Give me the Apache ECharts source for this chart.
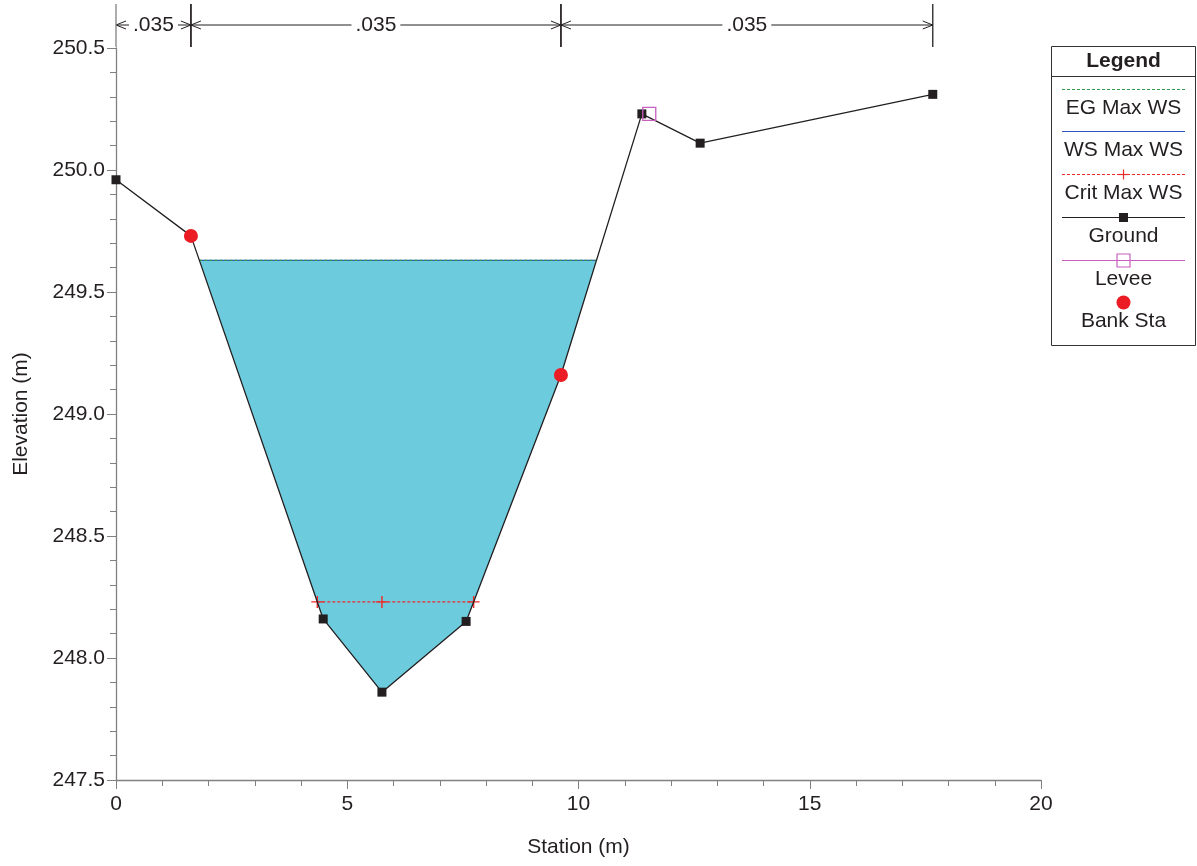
<!DOCTYPE html>
<html><head><meta charset="utf-8">
<script src="https://cdn.jsdelivr.net/npm/echarts@6/dist/echarts.min.js"></script>
<style>html,body{margin:0;padding:0;background:#fff}#c{width:1197px;height:866px}</style>
</head><body><div id="c"></div>
<script>
// ---------------- DATA ----------------
const groundStations   = [0, 1.62, 4.48, 5.75, 7.57, 9.62, 11.37, 12.63, 17.66];
const groundElevations = [249.96, 249.73, 248.16, 247.86, 248.15, 249.16, 250.23, 250.11, 250.31];
const bankStations     = [1.62, 9.62];
const bankElevations   = [249.73, 249.16];
const leveeStations    = [11.53];
const leveeElevations  = [250.23];
const egElevation      = 249.63;   // EG Max WS
const wsElevation      = 249.63;   // WS Max WS
const critElevation    = 248.23;   // Crit Max WS
const nBoundaries      = [0, 1.62, 9.62, 17.66];
const nValues          = ['.035', '.035', '.035'];
const legendNames      = ['EG Max WS', 'WS Max WS', 'Crit Max WS', 'Ground', 'Levee', 'Bank Sta'];
const xMin = 0, xMax = 20, xStep = 5;
const yMin = 247.5, yMax = 250.5, yStep = 0.5;

// ---------------- HELPERS ----------------
const FONT = "'Liberation Sans', Arial, Helvetica, sans-serif";
const C = {water:'#6ccbdc', eg:'#2e9a4e', ws:'#2a56bd', crit:'#ee2a2a', ground:'#231f20', levee:'#c85fbe', bank:'#ec1c24', axis:'#808080', text:'#231f20'};

function crossings(level) {
  const out = [];
  for (let i = 0; i < groundStations.length - 1; i++) {
    const e1 = groundElevations[i], e2 = groundElevations[i + 1];
    if ((e1 - level) * (e2 - level) < 0) {
      const t = (level - e1) / (e2 - e1);
      out.push(groundStations[i] + t * (groundStations[i + 1] - groundStations[i]));
    }
  }
  return out;
}
const wsX = crossings(wsElevation);
const wsLeft = wsX[0], wsRight = wsX[wsX.length - 1];
const waterPoly = [[wsLeft, wsElevation]];
groundStations.forEach((s, i) => { if (s > wsLeft && s < wsRight) waterPoly.push([s, groundElevations[i]]); });
waterPoly.push([wsRight, wsElevation]);

const critX = crossings(critElevation);
let thalweg = 0;
groundElevations.forEach((e, i) => { if (e < groundElevations[thalweg]) thalweg = i; });
const critData = [[critX[0], critElevation], [groundStations[thalweg], critElevation], [critX[critX.length - 1], critElevation]];

const groundData = groundStations.map((s, i) => [s, groundElevations[i]]);
const bankData = bankStations.map((s, i) => [s, bankElevations[i]]);
const leveeData = leveeStations.map((s, i) => [s, leveeElevations[i]]);
const nRegions = nValues.map((v, i) => [nBoundaries[i], nBoundaries[i + 1], yMax]);

const mctx = document.createElement('canvas').getContext('2d');
function textW(t, size) { mctx.font = size + 'px ' + FONT; return mctx.measureText(t).width; }

const PLUS = 'path://M4.4,0H5.6V4.4H10V5.6H5.6V10H4.4V5.6H0V4.4H4.4Z';

// ---------------- LEGEND (graphic) ----------------
const LX0 = 1051.5, LX1 = 1195.5, LY0 = 46.5, LY1 = 345.5, LCX = 1123.5;
const legendLineY = [89.5, 131.5, 174.5, 217.5, 260.5, 302.5];
const legendEls = [
  {type:'rect', shape:{x:LX0, y:LY0, width:LX1 - LX0, height:LY1 - LY0}, style:{fill:'#fff', stroke:'#333', lineWidth:1}},
  {type:'line', shape:{x1:LX0, y1:76.5, x2:LX1, y2:76.5}, style:{stroke:'#333', lineWidth:1}},
  {type:'text', x:LCX, y:61, style:{text:'Legend', font:'bold 21px ' + FONT, fill:C.text, align:'center', verticalAlign:'middle', textAlign:'center', textVerticalAlign:'middle'}}
];
const sampleStyles = [
  {stroke:C.eg, dash:[3,2]}, {stroke:C.ws}, {stroke:C.crit, dash:[3,2], mark:'plus'},
  {stroke:C.ground, mark:'square'}, {stroke:C.levee, mark:'open'}, {mark:'circle'}
];
legendNames.forEach((name, i) => {
  const y = legendLineY[i], st = sampleStyles[i];
  if (st.stroke) legendEls.push({type:'line', shape:{x1:1062, y1:y, x2:1185, y2:y}, style:{stroke:st.stroke, lineWidth:1.2, lineDash:st.dash || null}});
  if (st.mark === 'plus') {
    legendEls.push({type:'line', shape:{x1:LCX - 5, y1:y, x2:LCX + 5, y2:y}, style:{stroke:C.crit, lineWidth:1.2}});
    legendEls.push({type:'line', shape:{x1:LCX, y1:y - 5, x2:LCX, y2:y + 5}, style:{stroke:C.crit, lineWidth:1.2}});
  } else if (st.mark === 'square') {
    legendEls.push({type:'rect', shape:{x:LCX - 4.5, y:y - 4.5, width:9, height:9}, style:{fill:C.ground}});
  } else if (st.mark === 'open') {
    legendEls.push({type:'rect', shape:{x:LCX - 6.5, y:y - 6.5, width:13, height:13}, style:{fill:'rgba(0,0,0,0)', stroke:C.levee, lineWidth:1.2}});
  } else if (st.mark === 'circle') {
    legendEls.push({type:'circle', shape:{cx:LCX, cy:y, r:7}, style:{fill:C.bank}});
  }
  legendEls.push({type:'text', x:LCX, y:y + 19, style:{text:name, font:'21px ' + FONT, fill:C.text, align:'center', verticalAlign:'middle', textAlign:'center', textVerticalAlign:'middle'}});
});

// ---------------- CHART ----------------
const axisCommon = {
  type:'value',
  axisLine:{show:true, onZero:false, lineStyle:{color:C.axis, width:1.3}},
  axisTick:{show:true, inside:false, length:9, lineStyle:{color:C.axis, width:1}},
  minorTick:{show:true, splitNumber:5, length:6, lineStyle:{color:C.axis, width:1}},
  splitLine:{show:false}, minorSplitLine:{show:false},
  nameLocation:'middle', nameMoveOverlap:false,
  nameTextStyle:{fontSize:21, fontFamily:FONT, color:C.text}
};

const chart = echarts.init(document.getElementById('c'), null, {renderer:'canvas'});
chart.setOption({
  animation:false,
  backgroundColor:'#fff',
  grid:{left:116, right:156, top:48, bottom:86, containLabel:false, outerBoundsMode:'none'},
  xAxis: Object.assign({}, axisCommon, {
    min:xMin, max:xMax, interval:xStep,
    name:'Station (m)', nameGap:57,
    axisLabel:{margin:14, fontSize:21, fontFamily:FONT, color:C.text}
  }),
  yAxis: Object.assign({}, axisCommon, {
    min:yMin, max:yMax, interval:yStep,
    name:'Elevation (m)', nameGap:84, nameRotate:90,
    axisLabel:{margin:11, fontSize:21, fontFamily:FONT, color:C.text, formatter:v => v.toFixed(1)}
  }),
  graphic: legendEls,
  series:[
    {type:'custom', name:'water', silent:true, z:1, data:[[wsLeft, wsElevation]],
     renderItem:(p, api) => ({type:'polygon', shape:{points:waterPoly.map(pt => api.coord(pt))}, style:{fill:C.water}})},
    {type:'line', name:'WS Max WS', silent:true, z:3, symbol:'none', data:[[wsLeft, wsElevation], [wsRight, wsElevation]],
     lineStyle:{color:C.ws, width:1.2}},
    {type:'line', name:'EG Max WS', silent:true, z:4, symbol:'none', data:[[wsLeft, egElevation], [wsRight, egElevation]],
     lineStyle:{color:C.eg, width:1.2, type:[3,2]}},
    {type:'line', name:'Crit Max WS', silent:true, z:4, symbol:PLUS, symbolSize:12, data:critData,
     itemStyle:{color:C.crit, opacity:1}, lineStyle:{color:C.crit, width:1.1, type:[3,2]}},
    {type:'line', name:'Ground', silent:true, z:5, symbol:'rect', symbolSize:9, data:groundData,
     itemStyle:{color:C.ground, opacity:1}, lineStyle:{color:C.ground, width:1.3}},
    {type:'scatter', name:'Levee', silent:true, z:6, symbol:'rect', symbolSize:13, data:leveeData,
     itemStyle:{color:'rgba(0,0,0,0)', borderColor:C.levee, borderWidth:1.3, opacity:1}},
    {type:'scatter', name:'Bank Sta', silent:true, z:7, symbol:'circle', symbolSize:14, data:bankData,
     itemStyle:{color:C.bank, opacity:1}},
    {type:'custom', name:'n values', silent:true, z:8, clip:false, data:nRegions,
     encode:{x:[0,1], y:2},
     renderItem:(p, api) => {
       const i = p.dataIndex;
       const a = api.coord([api.value(0), api.value(2)]);
       const b = api.coord([api.value(1), api.value(2)]);
       const x1 = a[0], x2 = b[0], top = a[1];
       const y = top - 23;
       const label = nValues[i];
       const tw = textW(label, 21);
       const mid = (x1 + x2) / 2, gap = 4;
       const ls = {stroke:'#231f20', lineWidth:1};
       const vColor = v => (Math.abs(v - xMin) < 1e-9 ? C.axis : '#231f20');
       return {type:'group', children:[
         {type:'line', shape:{x1:x1, y1:y, x2:mid - tw / 2 - gap, y2:y}, style:ls},
         {type:'line', shape:{x1:mid + tw / 2 + gap, y1:y, x2:x2, y2:y}, style:ls},
         {type:'polyline', shape:{points:[[x1 + 10, y - 4], [x1, y], [x1 + 10, y + 4]]}, style:{stroke:'#231f20', lineWidth:1, fill:null}},
         {type:'polyline', shape:{points:[[x2 - 10, y - 4], [x2, y], [x2 - 10, y + 4]]}, style:{stroke:'#231f20', lineWidth:1, fill:null}},
         {type:'line', shape:{x1:x1, y1:top - 44, x2:x1, y2:top - 1}, style:{stroke:vColor(api.value(0)), lineWidth:1.3}},
         {type:'line', shape:{x1:x2, y1:top - 44, x2:x2, y2:top - 1}, style:{stroke:'#231f20', lineWidth:1.3}},
         {type:'text', x:mid, y:y, style:{text:label, font:'21px ' + FONT, fill:C.text, align:'center', verticalAlign:'middle'}}
       ]};
     }}
  ]
});
</script></body></html>
